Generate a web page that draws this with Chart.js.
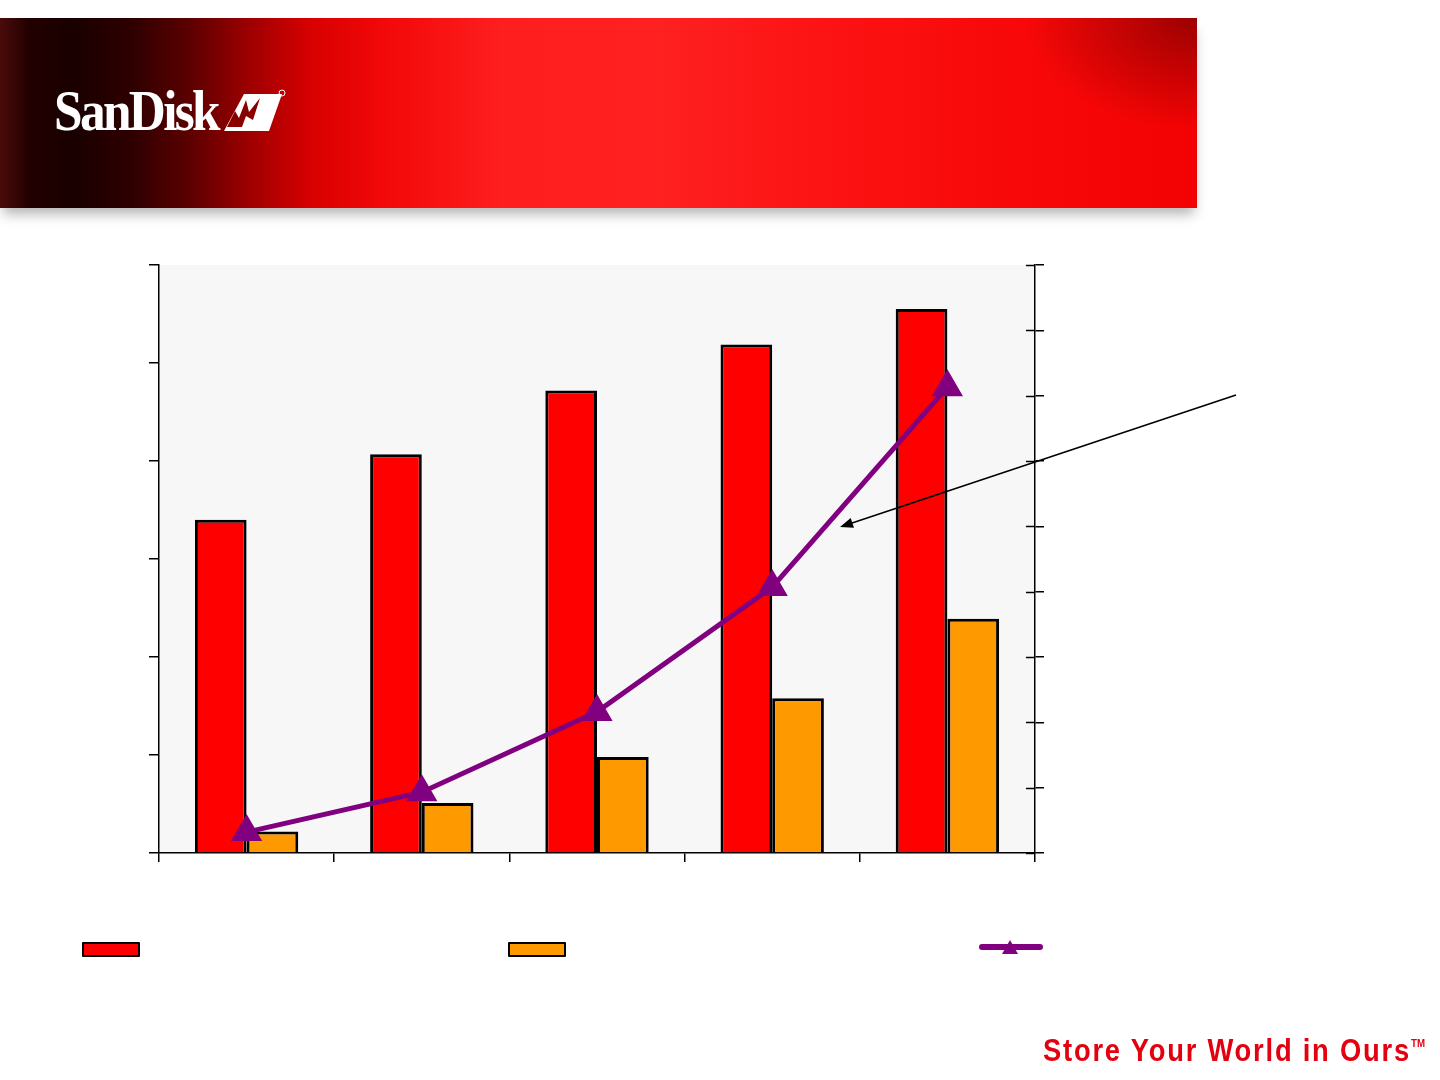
<!DOCTYPE html>
<html lang="en">
<head>
  <meta charset="UTF-8" />
  <title>SanDisk</title>
  <script src="https://cdn.jsdelivr.net/npm/chart.js"></script>
  <style>
    html, body { margin: 0; padding: 0; background: #fff; }
    body { width: 1440px; height: 1080px; position: relative; overflow: hidden; font-family: 'Liberation Sans', sans-serif; }
    #banner {
      position: absolute; left: 0; top: 18px; width: 1197px; height: 190px;
      background:
        radial-gradient(ellipse 170px 110px at 100% 0%, rgba(110,0,0,0.65), rgba(110,0,0,0) 100%),
        linear-gradient(90deg, #4a0b0b 0%, #220000 2.5%, #1a0000 6%, #2e0000 11%, #5e0000 16%, #a00000 21%, #d80000 26%, #f20808 32%, #ff1e1e 42%, #ff2020 55%, #fc1212 70%, #f80808 85%, #f20202 100%);
      box-shadow: 0 9px 12px -3px rgba(0,0,0,0.3);
    }
    #logo {
      position: absolute; left: 54px; top: 82px; color: #fff;
      font-family: 'Liberation Serif', 'DejaVu Serif', serif; font-weight: bold;
      font-size: 58px; letter-spacing: -3px; line-height: 1;
      transform-origin: 0 0; white-space: nowrap;
    }
    #mark { position: absolute; left: 222px; top: 89px; }
    .box { position: absolute; top: 942px; width: 54px; height: 11px; border: 2px solid #000; border-radius: 1px; }
    #tagline {
      position: absolute; left: 1043px; top: 1033px; color: #e3000f;
      font-family: 'Liberation Sans', sans-serif; font-weight: bold;
      font-size: 31px; letter-spacing: 2px; white-space: nowrap; transform-origin: 0 0;
    }
    #tagline sup { font-size: 11px; letter-spacing: 0; vertical-align: 14px; }
    canvas { position: absolute; left: 0; top: 0; }
  </style>
</head>
<body>
  <canvas id="chart" width="1440" height="1080"></canvas>

  <div id="banner"></div>
  <div id="logo">SanDisk</div>
  <svg id="mark" width="66" height="46" viewBox="0 0 66 46">
    <polygon points="22,5 60,5 47,42 2,42" fill="#fff" />
    <polygon points="5,38 13,22 17,29 24,11 27,23 38,9 31,31 24,27 20,38" fill="#8a0000" />
    <circle cx="60" cy="4" r="3" fill="none" stroke="#fff" stroke-width="1" />
  </svg>

  <div id="legend"></div>
  <div id="tagline">Store Your World in Ours<sup>TM</sup></div>

  <script>
    // chart values
    const categories = ['1', '2', '3', '4', '5'];
    const redValues = [3.40, 4.07, 4.72, 5.19, 5.55];
    const orangeValues = [0.22, 0.51, 0.98, 1.58, 2.39];
    const lineValues = [0.32, 0.93, 2.16, 4.07, 7.13];
    const leftAxisMax = 6;
    const rightAxisMax = 9;

    const RED = '#ff0000', ORANGE = '#ff9900', PURPLE = '#800080';

    // squeeze the wordmark and tagline to the widths on the slide
    function fitWidth(id, w) {
      const el = document.getElementById(id);
      el.style.transform = `scaleX(${w / el.getBoundingClientRect().width})`;
    }
    fitWidth('logo', 164);
    fitWidth('tagline', 382);

    // grey plot area
    const plotBg = {
      id: 'plotBg',
      beforeDraw(chart) {
        const { ctx, chartArea: a } = chart;
        ctx.save();
        ctx.fillStyle = '#f7f7f7';
        ctx.fillRect(a.left, a.top, a.right - a.left, a.bottom - a.top);
        ctx.restore();
      }
    };

    // right axis ticks cross the axis line, chart.js only draws the outer half
    const innerTicks = {
      id: 'innerTicks',
      beforeDatasetsDraw(chart) {
        const { ctx, chartArea: a } = chart;
        const s = chart.scales.y1;
        ctx.save();
        ctx.strokeStyle = '#000';
        ctx.lineWidth = 1.5;
        s.ticks.forEach((t, i) => {
          const y = Math.round(s.getPixelForTick(i)) + 0.5;
          ctx.beginPath();
          ctx.moveTo(a.right - 9, y);
          ctx.lineTo(a.right, y);
          ctx.stroke();
        });
        ctx.restore();
      }
    };

    // callout arrow pointing at the line
    const callout = {
      id: 'callout',
      afterDraw(chart) {
        const { ctx } = chart;
        const from = { x: 1236, y: 395 }, to = { x: 840, y: 527 };
        const ang = Math.atan2(to.y - from.y, to.x - from.x);
        ctx.save();
        ctx.strokeStyle = '#000';
        ctx.fillStyle = '#000';
        ctx.lineWidth = 1.6;
        ctx.beginPath();
        ctx.moveTo(from.x, from.y);
        ctx.lineTo(to.x - Math.cos(ang) * 8, to.y - Math.sin(ang) * 8);
        ctx.stroke();
        ctx.beginPath();
        ctx.moveTo(to.x, to.y);
        ctx.lineTo(to.x - Math.cos(ang - 0.38) * 14, to.y - Math.sin(ang - 0.38) * 14);
        ctx.lineTo(to.x - Math.cos(ang + 0.38) * 14, to.y - Math.sin(ang + 0.38) * 14);
        ctx.closePath();
        ctx.fill();
        ctx.restore();
      }
    };

    const axisGrid = len => ({ drawOnChartArea: false, drawTicks: true, tickLength: len, color: '#000', lineWidth: 1.5 });
    const axisBorder = { display: true, color: '#000', width: 1.5 };

    const chart = new Chart(document.getElementById('chart'), {
      type: 'bar',
      data: {
        labels: categories,
        datasets: [
          {
            type: 'line', label: 'Line', data: lineValues, yAxisID: 'y1', order: 0,
            borderColor: PURPLE, borderWidth: 5, tension: 0, clip: false,
            pointStyle: 'triangle', pointRadius: 16, pointBackgroundColor: PURPLE,
            pointBorderColor: PURPLE, pointBorderWidth: 2
          },
          {
            label: 'Red', data: redValues, yAxisID: 'y', order: 1,
            backgroundColor: RED, borderColor: '#000', borderWidth: 3,
            categoryPercentage: 0.59, barPercentage: 1
          },
          {
            label: 'Orange', data: orangeValues, yAxisID: 'y', order: 2,
            backgroundColor: ORANGE, borderColor: '#000', borderWidth: 3,
            categoryPercentage: 0.59, barPercentage: 1
          }
        ]
      },
      options: {
        responsive: false,
        animation: false,
        layout: { padding: { left: 149, right: 396, top: 265, bottom: 218 } },
        plugins: { legend: { display: false }, tooltip: { enabled: false } },
        scales: {
          x: {
            offset: true,
            grid: Object.assign(axisGrid(9), { offset: true }),
            border: axisBorder,
            ticks: { display: false },
            afterFit: s => { s.height = 9; }
          },
          y: {
            position: 'left', min: 0, max: leftAxisMax,
            ticks: { display: false, stepSize: 1 },
            grid: axisGrid(10), border: axisBorder,
            afterFit: s => { s.width = 10; }
          },
          y1: {
            position: 'right', min: 0, max: rightAxisMax,
            ticks: { display: false, stepSize: 1 },
            grid: axisGrid(9), border: axisBorder,
            afterFit: s => { s.width = 9; }
          }
        }
      },
      plugins: [plotBg, innerTicks, callout]
    });

    // legend keys (no label text on the slide)
    const legend = document.getElementById('legend');
    [[RED, 82], [ORANGE, 508]].forEach(([c, x]) => {
      const d = document.createElement('div');
      d.className = 'box';
      d.style.left = x + 'px';
      d.style.background = c;
      legend.appendChild(d);
    });
    legend.insertAdjacentHTML('beforeend',
      `<div style="position:absolute;left:979px;top:944px;width:64px;height:6px;border-radius:3px;background:${PURPLE}"></div>
       <div style="position:absolute;left:1002px;top:940px;width:0;height:0;border-left:8px solid transparent;border-right:8px solid transparent;border-bottom:14px solid ${PURPLE}"></div>`);
  </script>
</body>
</html>
